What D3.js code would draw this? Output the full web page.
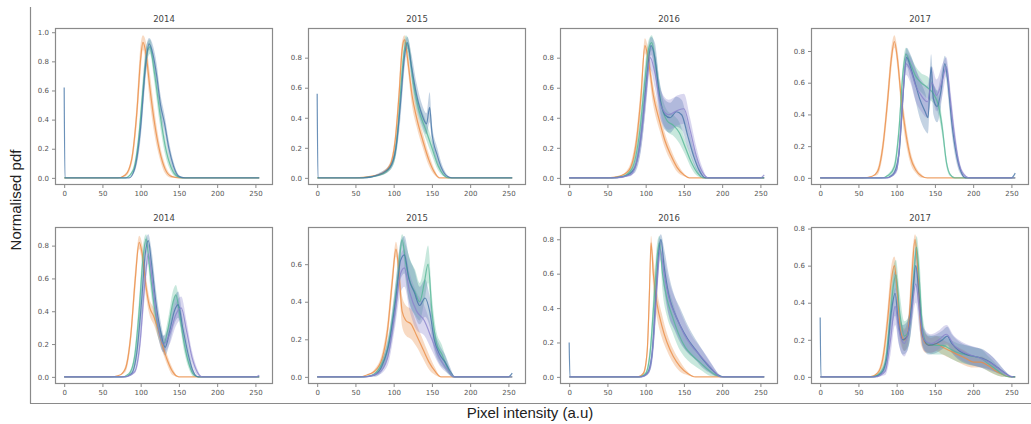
<!DOCTYPE html>
<html><head><meta charset="utf-8">
<script src="https://cdn.jsdelivr.net/npm/d3@7"></script>
<style>body{margin:0;background:#fff}svg{display:block}</style>
</head><body><svg id="c" width="1031" height="424"></svg>
<script>
// ---------- data: [pixel intensity, mean pdf, sd] ----------
const xTicks = [0, 50, 100, 150, 200, 250];
const titles = ["2014", "2015", "2016", "2017", "2014", "2015", "2016", "2017"];
const seriesNames = ["orange", "teal", "blue", "purple"];
const seriesColors = ["#ea8c45", "#55b796", "#4676a8", "#8a82cc"];

// top row
const top2014Orange = [[0,0,0],[70,0,0],[80,0.02,0.01],[88,0.12,0.03],[95,0.45,0.08],[100,0.82,0.1],[103,0.93,0.05],[107,0.85,0.08],[112,0.62,0.1],[118,0.38,0.08],[125,0.18,0.05],[132,0.06,0.03],[140,0.01,0.01],[150,0,0],[255,0,0]];
const top2014Teal = [[0,0,0],[80,0,0],[90,0.05,0.02],[97,0.25,0.06],[103,0.6,0.1],[108,0.85,0.07],[112,0.9,0.05],[118,0.72,0.07],[125,0.45,0.08],[132,0.22,0.06],[140,0.07,0.03],[148,0.01,0.01],[155,0,0],[255,0,0]];
const top2014Blue = [[0,0.62,0],[1,0,0],[85,0,0],[92,0.06,0.02],[100,0.35,0.08],[106,0.75,0.1],[111,0.92,0.04],[116,0.85,0.06],[121,0.7,0.08],[126,0.5,0.07],[131,0.38,0.06],[137,0.2,0.05],[143,0.08,0.03],[150,0.01,0.01],[158,0,0],[255,0,0]];
const top2014Purple = [];

const top2015Orange = [[0,0,0],[50,0,0],[70,0.01,0],[85,0.03,0.01],[95,0.08,0.02],[102,0.25,0.05],[107,0.55,0.08],[111,0.85,0.06],[114,0.92,0.03],[118,0.8,0.06],[124,0.55,0.07],[130,0.4,0.06],[138,0.25,0.05],[146,0.12,0.04],[153,0.04,0.02],[160,0,0],[255,0,0]];
const top2015Teal = [[0,0,0],[55,0,0],[75,0.01,0],[90,0.04,0.01],[100,0.12,0.03],[106,0.35,0.07],[111,0.7,0.08],[116,0.9,0.05],[120,0.85,0.06],[126,0.62,0.07],[133,0.45,0.06],[142,0.32,0.06],[150,0.2,0.05],[158,0.08,0.03],[165,0.02,0.01],[172,0,0],[255,0,0]];
const top2015Blue = [[0,0.56,0],[1,0,0],[60,0,0],[80,0.02,0.01],[95,0.07,0.02],[103,0.2,0.05],[109,0.5,0.1],[114,0.8,0.08],[118,0.9,0.04],[123,0.75,0.08],[130,0.55,0.08],[137,0.42,0.07],[143,0.36,0.07],[147,0.47,0.1],[150,0.3,0.06],[157,0.15,0.05],[163,0.06,0.03],[170,0.01,0.01],[176,0,0],[255,0,0]];
const top2015Purple = [];

const top2016Orange = [[0,0,0],[50,0,0],[65,0.01,0],[78,0.05,0.02],[88,0.25,0.06],[94,0.55,0.08],[99,0.88,0.05],[103,0.8,0.07],[110,0.55,0.07],[118,0.38,0.06],[125,0.25,0.05],[133,0.15,0.04],[141,0.07,0.03],[150,0.02,0.01],[157,0,0],[255,0,0]];
const top2016Teal = [[0,0,0],[55,0,0],[70,0.01,0],[82,0.06,0.03],[92,0.3,0.08],[99,0.65,0.1],[104,0.86,0.06],[108,0.9,0.05],[113,0.75,0.08],[120,0.5,0.08],[128,0.38,0.07],[136,0.35,0.07],[144,0.3,0.07],[152,0.2,0.05],[160,0.1,0.04],[168,0.03,0.02],[175,0,0],[255,0,0]];
const top2016Blue = [[0,0,0],[55,0,0],[72,0.01,0],[85,0.06,0.03],[95,0.32,0.1],[102,0.7,0.12],[107,0.88,0.06],[112,0.8,0.1],[118,0.55,0.1],[125,0.42,0.1],[132,0.4,0.1],[140,0.44,0.1],[147,0.42,0.1],[155,0.28,0.08],[163,0.14,0.05],[170,0.05,0.03],[178,0,0],[255,0,0]];
const top2016Purple = [[0,0,0],[60,0,0],[80,0.02,0.01],[92,0.2,0.06],[100,0.55,0.1],[106,0.8,0.08],[112,0.7,0.1],[120,0.48,0.1],[130,0.42,0.1],[142,0.45,0.1],[150,0.46,0.1],[158,0.32,0.08],[166,0.15,0.06],[174,0.04,0.03],[182,0,0],[250,0,0],[255,0.02,0]];

const top2017Orange = [[0,0,0],[55,0,0],[68,0.01,0],[75,0.04,0.02],[82,0.2,0.05],[88,0.48,0.07],[93,0.75,0.07],[97,0.86,0.04],[101,0.75,0.06],[106,0.5,0.07],[112,0.28,0.06],[118,0.13,0.04],[125,0.05,0.02],[133,0.01,0.01],[140,0,0],[255,0,0]];
const top2017Teal = [[0,0,0],[80,0,0],[90,0.02,0.01],[97,0.07,0.03],[103,0.3,0.06],[108,0.65,0.06],[112,0.78,0.04],[118,0.72,0.05],[125,0.64,0.06],[132,0.6,0.06],[140,0.57,0.07],[148,0.53,0.06],[155,0.45,0.06],[160,0.3,0.05],[165,0.1,0.03],[170,0.02,0.01],[176,0,0],[255,0,0]];
const top2017Blue = [[0,0,0],[85,0,0],[95,0.02,0.01],[103,0.15,0.05],[108,0.5,0.08],[113,0.76,0.06],[118,0.7,0.08],[124,0.6,0.1],[130,0.5,0.12],[137,0.42,0.12],[141,0.38,0.1],[145,0.7,0.08],[148,0.5,0.1],[153,0.45,0.1],[158,0.55,0.1],[163,0.72,0.05],[167,0.6,0.08],[172,0.35,0.07],[178,0.15,0.05],[184,0.04,0.02],[190,0,0],[250,0,0],[255,0.03,0]];
const top2017Purple = [[0,0,0],[88,0,0],[100,0.05,0.02],[106,0.35,0.07],[112,0.72,0.07],[118,0.68,0.08],[125,0.58,0.1],[132,0.52,0.1],[140,0.48,0.1],[146,0.6,0.1],[152,0.52,0.1],[160,0.62,0.1],[165,0.7,0.06],[170,0.5,0.07],[176,0.25,0.06],[182,0.08,0.03],[190,0.01,0.01],[195,0,0],[255,0,0]];

// bottom row
const bot2014Orange = [[0,0,0],[60,0,0],[72,0.01,0],[80,0.05,0.02],[87,0.25,0.05],[93,0.6,0.07],[98,0.82,0.04],[102,0.75,0.06],[107,0.55,0.06],[112,0.42,0.05],[117,0.37,0.05],[122,0.3,0.05],[128,0.2,0.04],[135,0.1,0.03],[142,0.03,0.02],[150,0,0],[255,0,0]];
const bot2014Teal = [[0,0,0],[75,0,0],[85,0.02,0.01],[92,0.12,0.04],[98,0.4,0.08],[103,0.72,0.08],[107,0.84,0.03],[112,0.65,0.08],[118,0.42,0.07],[124,0.28,0.06],[130,0.2,0.05],[136,0.3,0.06],[142,0.45,0.07],[146,0.5,0.06],[151,0.38,0.06],[157,0.2,0.05],[163,0.08,0.03],[170,0.01,0.01],[176,0,0],[255,0,0]];
const bot2014Blue = [[0,0,0],[78,0,0],[88,0.02,0.01],[95,0.15,0.05],[101,0.45,0.1],[106,0.75,0.08],[110,0.83,0.04],[114,0.7,0.08],[120,0.45,0.08],[126,0.28,0.06],[132,0.18,0.05],[138,0.28,0.07],[144,0.4,0.08],[149,0.44,0.08],[155,0.3,0.06],[162,0.14,0.05],[168,0.04,0.02],[175,0,0],[255,0,0]];
const bot2014Purple = [[0,0,0],[80,0,0],[92,0.03,0.01],[99,0.2,0.05],[105,0.55,0.08],[110,0.75,0.06],[116,0.55,0.08],[123,0.3,0.06],[130,0.2,0.05],[138,0.26,0.06],[146,0.38,0.07],[153,0.42,0.07],[160,0.28,0.06],[167,0.12,0.04],[174,0.03,0.02],[181,0,0],[250,0,0],[255,0.01,0]];

const bot2015Orange = [[0,0,0],[55,0,0],[65,0.01,0],[75,0.03,0.01],[85,0.1,0.03],[92,0.25,0.05],[98,0.5,0.06],[103,0.68,0.04],[107,0.55,0.07],[111,0.35,0.08],[116,0.3,0.08],[123,0.28,0.08],[130,0.22,0.06],[138,0.15,0.05],[146,0.08,0.04],[154,0.03,0.02],[162,0,0],[255,0,0]];
const bot2015Teal = [[0,0,0],[60,0,0],[72,0.01,0],[82,0.05,0.02],[92,0.15,0.04],[100,0.35,0.07],[106,0.55,0.08],[111,0.73,0.03],[116,0.6,0.1],[122,0.5,0.12],[128,0.45,0.12],[134,0.4,0.1],[140,0.5,0.1],[145,0.6,0.1],[150,0.35,0.08],[156,0.18,0.06],[163,0.12,0.05],[170,0.05,0.03],[178,0,0],[255,0,0]];
const bot2015Blue = [[0,0,0],[60,0,0],[75,0.01,0.01],[85,0.06,0.03],[95,0.2,0.06],[103,0.42,0.09],[109,0.62,0.1],[114,0.65,0.1],[120,0.52,0.12],[127,0.45,0.12],[134,0.38,0.1],[141,0.42,0.1],[147,0.35,0.08],[153,0.2,0.06],[160,0.12,0.05],[167,0.08,0.04],[174,0.03,0.02],[180,0,0],[250,0,0],[255,0.02,0]];
const bot2015Purple = [[0,0,0],[62,0,0],[80,0.02,0.01],[92,0.1,0.04],[102,0.35,0.08],[109,0.55,0.1],[114,0.58,0.1],[121,0.45,0.1],[130,0.35,0.1],[140,0.3,0.08],[150,0.2,0.06],[160,0.1,0.04],[170,0.04,0.02],[178,0,0],[255,0,0]];

const bot2016Orange = [[0,0,0],[90,0,0],[97,0.02,0.01],[102,0.15,0.05],[105,0.5,0.1],[107,0.78,0.04],[110,0.6,0.1],[115,0.42,0.08],[121,0.3,0.07],[128,0.2,0.05],[136,0.12,0.04],[145,0.06,0.03],[155,0.02,0.01],[165,0,0],[255,0,0]];
const bot2016Teal = [[0,0,0],[92,0,0],[100,0.02,0.01],[106,0.15,0.05],[111,0.45,0.1],[115,0.7,0.08],[118,0.78,0.04],[122,0.6,0.1],[128,0.45,0.1],[135,0.35,0.09],[143,0.25,0.08],[152,0.17,0.06],[162,0.12,0.05],[172,0.08,0.04],[182,0.04,0.03],[192,0.01,0.01],[200,0,0],[255,0,0]];
const bot2016Blue = [[0,0.2,0],[1,0,0],[94,0,0],[102,0.02,0.01],[108,0.12,0.05],[113,0.45,0.1],[117,0.72,0.08],[120,0.8,0.03],[124,0.65,0.1],[130,0.48,0.12],[137,0.38,0.1],[145,0.3,0.1],[155,0.22,0.08],[165,0.16,0.06],[175,0.1,0.05],[185,0.05,0.03],[195,0.01,0.01],[202,0,0],[255,0,0]];
const bot2016Purple = [[0,0,0],[95,0,0],[104,0.03,0.01],[110,0.2,0.06],[115,0.55,0.1],[119,0.74,0.06],[124,0.6,0.1],[131,0.45,0.1],[140,0.35,0.09],[150,0.25,0.08],[160,0.18,0.06],[170,0.13,0.05],[180,0.08,0.04],[190,0.03,0.02],[198,0,0],[255,0,0]];

const bot2017Orange = [[0,0,0],[65,0,0],[75,0.02,0.01],[82,0.1,0.04],[88,0.3,0.07],[93,0.52,0.08],[97,0.6,0.05],[101,0.45,0.08],[105,0.25,0.07],[110,0.2,0.06],[115,0.25,0.07],[120,0.55,0.1],[124,0.74,0.03],[128,0.55,0.1],[132,0.25,0.08],[138,0.18,0.05],[145,0.17,0.04],[152,0.18,0.04],[160,0.16,0.04],[170,0.14,0.04],[180,0.12,0.04],[190,0.1,0.04],[200,0.08,0.03],[210,0.08,0.03],[220,0.06,0.03],[230,0.03,0.02],[240,0.01,0.01],[248,0,0],[255,0,0]];
const bot2017Teal = [[0,0,0],[68,0,0],[78,0.02,0.01],[85,0.08,0.04],[91,0.3,0.08],[96,0.5,0.1],[99,0.55,0.08],[104,0.35,0.1],[110,0.22,0.08],[116,0.25,0.08],[121,0.45,0.1],[126,0.7,0.06],[130,0.5,0.12],[134,0.25,0.08],[140,0.18,0.05],[150,0.17,0.05],[160,0.17,0.05],[170,0.15,0.05],[180,0.13,0.05],[190,0.12,0.05],[200,0.11,0.05],[210,0.1,0.05],[220,0.07,0.04],[230,0.04,0.03],[240,0.01,0.01],[247,0,0],[255,0,0]];
const bot2017Blue = [[0,0.32,0],[1,0,0],[70,0,0],[80,0.02,0.01],[87,0.1,0.05],[93,0.35,0.1],[98,0.45,0.12],[102,0.3,0.1],[108,0.2,0.08],[114,0.22,0.08],[120,0.4,0.1],[125,0.6,0.1],[129,0.45,0.12],[134,0.22,0.06],[142,0.17,0.05],[152,0.18,0.05],[160,0.2,0.05],[166,0.22,0.05],[172,0.18,0.05],[182,0.14,0.05],[192,0.12,0.05],[202,0.11,0.05],[212,0.1,0.05],[222,0.08,0.04],[232,0.05,0.03],[242,0.02,0.01],[250,0,0],[255,0,0]];
const bot2017Purple = [[0,0,0],[72,0,0],[85,0.03,0.02],[92,0.2,0.08],[98,0.38,0.1],[103,0.25,0.08],[110,0.18,0.07],[118,0.3,0.08],[125,0.5,0.1],[130,0.35,0.1],[136,0.2,0.06],[145,0.18,0.05],[155,0.2,0.05],[165,0.23,0.05],[175,0.17,0.05],[185,0.14,0.05],[195,0.12,0.05],[210,0.1,0.05],[225,0.07,0.04],[235,0.04,0.02],[245,0.01,0.01],[252,0,0]];

const panelSeries = [
  [top2014Orange, top2014Teal, top2014Blue, top2014Purple],
  [top2015Orange, top2015Teal, top2015Blue, top2015Purple],
  [top2016Orange, top2016Teal, top2016Blue, top2016Purple],
  [top2017Orange, top2017Teal, top2017Blue, top2017Purple],
  [bot2014Orange, bot2014Teal, bot2014Blue, bot2014Purple],
  [bot2015Orange, bot2015Teal, bot2015Blue, bot2015Purple],
  [bot2016Orange, bot2016Teal, bot2016Blue, bot2016Purple],
  [bot2017Orange, bot2017Teal, bot2017Blue, bot2017Purple]
];

// ---------- layout ----------
const svg = d3.select("#c");
const colLeft = [55, 308, 560, 811];
const panelW = 218;
const rowTop = [28, 227];
const panelH = 157;
const axisColor = "#8a8a8a";
const tickFont = "DejaVu Sans, sans-serif";

// outer frame (big axes)
svg.append("line").attr("x1", 30.5).attr("x2", 30.5).attr("y1", 7).attr("y2", 403.5)
  .attr("stroke", axisColor).attr("stroke-width", 1.2);
svg.append("line").attr("x1", 30).attr("x2", 1031).attr("y1", 403.5).attr("y2", 403.5)
  .attr("stroke", axisColor).attr("stroke-width", 1.2);

svg.append("text").attr("transform", "translate(21,200) rotate(-90)")
  .attr("text-anchor", "middle").attr("font-family", "Liberation Sans, Arial, sans-serif")
  .attr("font-size", 15).attr("fill", "#222").text("Normalised pdf");
svg.append("text").attr("x", 530).attr("y", 418)
  .attr("text-anchor", "middle").attr("font-family", "Liberation Sans, Arial, sans-serif")
  .attr("font-size", 15).attr("fill", "#222").text("Pixel intensity (a.u)");

panelSeries.forEach((series, i) => {
  const col = i % 4, row = Math.floor(i / 4);
  const x0 = colLeft[col], y0 = rowTop[row];
  const g = svg.append("g").attr("transform", `translate(${x0},${y0})`);
  const x = d3.scaleLinear().domain([-12, 273]).range([0, panelW]);
  const M = d3.max(series.flat(), d => d[1] + d[2]);
  const y = d3.scaleLinear().domain([-0.05 * M, 1.05 * M]).range([panelH, 0]);

  const clipId = "clip" + i;
  g.append("clipPath").attr("id", clipId).append("rect").attr("width", panelW).attr("height", panelH);
  const plot = g.append("g").attr("clip-path", `url(#${clipId})`);

  const area = d3.area().x(d => x(d[0])).y0(d => y(Math.max(0, d[1] - d[2]))).y1(d => y(d[1] + d[2]))
    .curve(d3.curveMonotoneX);
  const line = d3.line().x(d => x(d[0])).y(d => y(d[1])).curve(d3.curveMonotoneX);

  series.forEach((s, k) => {
    if (!s.length) return;
    plot.append("path").datum(s).attr("d", area).attr("fill", seriesColors[k]).attr("fill-opacity", 0.32);
  });
  series.forEach((s, k) => {
    if (!s.length) return;
    plot.append("path").datum(s).attr("d", line).attr("fill", "none")
      .attr("stroke", seriesColors[k]).attr("stroke-width", 1.2).attr("stroke-opacity", 0.8);
  });

  // axes
  const xa = g.append("g").attr("transform", `translate(0,${panelH})`)
    .call(d3.axisBottom(x).tickValues(xTicks).tickSize(3).tickPadding(3).tickFormat(d3.format("d")));
  const ya = g.append("g")
    .call(d3.axisLeft(y).tickValues(y.ticks(5).filter(v => v >= 0 && v <= y.domain()[1])).tickSize(3).tickPadding(3).tickFormat(d3.format(".1f")));
  [xa, ya].forEach(a => {
    a.select(".domain").remove();
    a.selectAll(".tick line").attr("stroke", axisColor);
    a.selectAll(".tick text").attr("fill", "#555").attr("font-size", 7).attr("font-family", tickFont);
  });
  g.append("rect").attr("x", 0.5).attr("y", 0.5).attr("width", panelW - 1).attr("height", panelH - 1)
    .attr("fill", "none").attr("stroke", axisColor).attr("stroke-width", 1.2);
  g.append("text").attr("x", panelW / 2).attr("y", -6).attr("text-anchor", "middle")
    .attr("font-family", tickFont).attr("font-size", 8.5).attr("fill", "#444").text(titles[i]);
});
</script></body></html>
